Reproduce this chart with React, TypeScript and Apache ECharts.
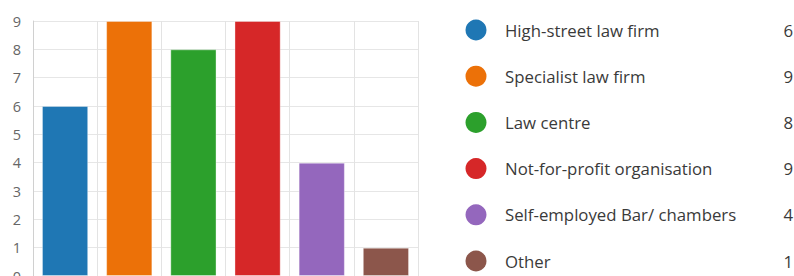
import React, { useEffect, useRef } from "react";
import * as echarts from "echarts";

const categories = [
  "High-street law firm",
  "Specialist law firm",
  "Law centre",
  "Not-for-profit organisation",
  "Self-employed Bar/ chambers",
  "Other",
];
const values = [6, 9, 8, 9, 4, 1];
const colors = ["#1f77b4", "#ec7108", "#2ca02c", "#d62728", "#9467bd", "#8c564b"];
const yTicks = [0, 1, 2, 3, 4, 5, 6, 7, 8, 9];

export default function App() {
  const ref = useRef<HTMLDivElement>(null);
  useEffect(() => {
    if (!ref.current) return;
    const chart = echarts.init(ref.current, undefined, { renderer: "svg" });
    const legendTop = 30;
    const legendStep = 46.2;
    const graphics: any[] = [];
    categories.forEach((c, i) => {
      const y = legendTop + i * legendStep;
      graphics.push({
        type: "circle",
        shape: { cx: 476, cy: y, r: 10.5 },
        style: { fill: colors[i] },
      });
      graphics.push({
        type: "text",
        x: 505,
        y,
        style: {
          text: c,
          fill: "#3a3a3a",
          font: '16.8px "Open Sans"',
          textVerticalAlign: "middle",
          textAlign: "left",
        },
      });
      graphics.push({
        type: "text",
        x: 793,
        y,
        style: {
          text: String(values[i]),
          fill: "#3a3a3a",
          font: '16.8px "Open Sans"',
          textVerticalAlign: "middle",
          textAlign: "right",
        },
      });
    });
    chart.setOption({
      animation: false,
      grid: { left: 33, top: 21, width: 385, bottom: 24, containLabel: false },
      xAxis: {
        type: "category",
        data: categories,
        axisLabel: { show: false },
        axisTick: { show: false },
        axisLine: { show: true, lineStyle: { color: "#ddd" } },
        splitLine: { show: true, interval: 0, lineStyle: { color: "#e3e3e3", width: 1 } },
      },
      yAxis: {
        type: "value",
        min: yTicks[0],
        max: yTicks[yTicks.length - 1],
        interval: 1,
        axisLabel: {
          color: "#666",
          fontSize: 14.5,
          fontFamily: "Open Sans",
          margin: 12,
        },
        axisLine: { show: true, lineStyle: { color: "#d0d0d0" } },
        axisTick: { show: false },
        splitLine: { show: true, lineStyle: { color: "#e6e6e6" } },
      },
      series: [
        {
          type: "bar",
          data: values.map((v, i) => ({
            value: v,
            itemStyle: {
              color: colors[i],
              borderColor: "rgba(255,255,255,0.35)",
              borderWidth: 1,
            },
          })),
          barCategoryGap: "28%",
        },
      ],
      graphic: graphics,
    });
    return () => chart.dispose();
  }, []);
  return (
    <div style={{ position: "fixed", left: 0, top: 0, width: 794, height: 276, overflow: "hidden", background: "#fff" }}>
      <div ref={ref} style={{ width: 794, height: 300 }} />
    </div>
  );
}
